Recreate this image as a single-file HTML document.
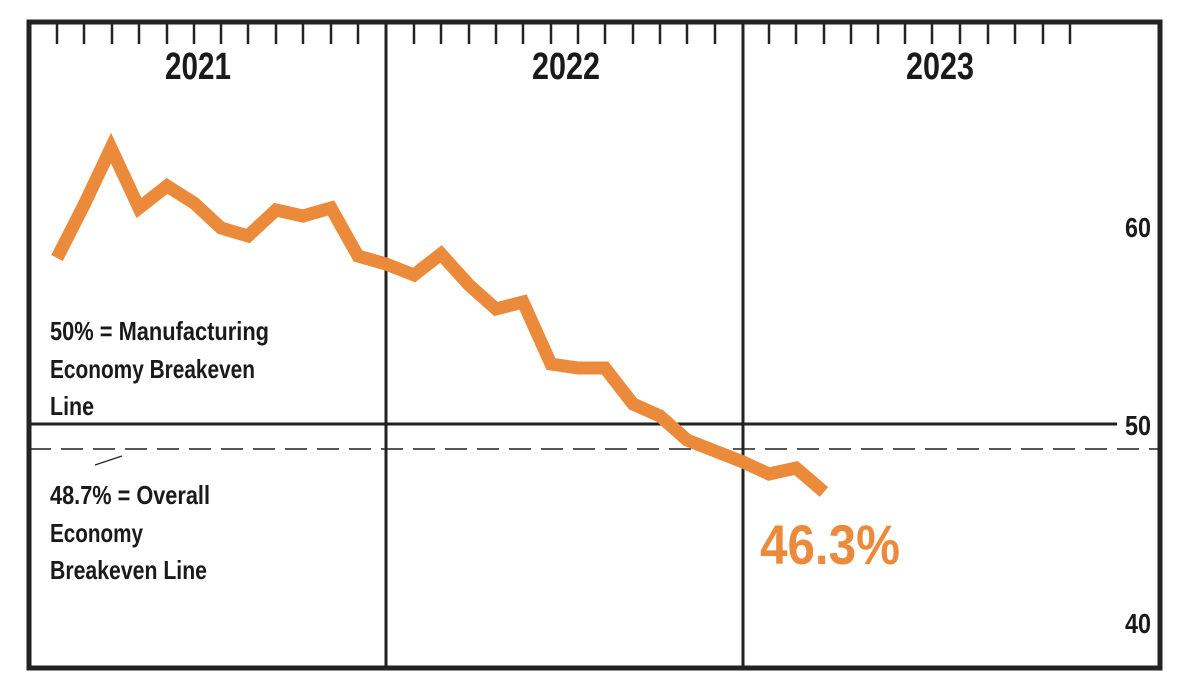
<!DOCTYPE html>
<html><head><meta charset="utf-8"><style>html,body{margin:0;padding:0;background:#fff}svg{display:block}</style></head>
<body>
<svg width="1196" height="698" viewBox="0 0 1196 698" xmlns="http://www.w3.org/2000/svg" font-family="Liberation Sans, sans-serif" font-weight="bold">
<rect x="0" y="0" width="1196" height="698" fill="#fff"/>
<g stroke="#222" stroke-width="2.5">
<path d="M57 24V44M84 24V44M112 24V44M139 24V44M167 24V44M194 24V44M221 24V44M248 24V44M276 24V44M303 24V44M331 24V44M358 24V44M414 24V44M441 24V44M469 24V44M496 24V44M523 24V44M551 24V44M578 24V44M605 24V44M633 24V44M660 24V44M687 24V44M715 24V44M769 24V44M796 24V44M824 24V44M851 24V44M878 24V44M905 24V44M932 24V44M960 24V44M988 24V44M1015 24V44M1043 24V44M1070 24V44"/>
<line x1="386" y1="22" x2="386" y2="668" stroke-width="3"/>
<line x1="743" y1="22" x2="743" y2="668" stroke-width="3"/>
<line x1="29" y1="424" x2="1117" y2="424" stroke-width="3"/>
<line x1="29" y1="449" x2="1160" y2="449" stroke-width="1.5" stroke-dasharray="22,10"/>
<line x1="95" y1="465" x2="122" y2="456" stroke-width="1.2"/>
</g>
<rect x="29" y="22" width="1131" height="646" fill="none" stroke="#222" stroke-width="5"/>
<g fill="#1a1a1a" font-size="38" text-anchor="middle">
<text x="198" y="79" textLength="66" lengthAdjust="spacingAndGlyphs">2021</text>
<text x="566" y="79" textLength="68" lengthAdjust="spacingAndGlyphs">2022</text>
<text x="940" y="79" textLength="68" lengthAdjust="spacingAndGlyphs">2023</text>
</g>
<g fill="#1a1a1a" font-size="28" text-anchor="middle">
<text x="1138" y="237" textLength="26" lengthAdjust="spacingAndGlyphs">60</text>
<text x="1138" y="435" textLength="26" lengthAdjust="spacingAndGlyphs">50</text>
<text x="1138" y="633" textLength="26" lengthAdjust="spacingAndGlyphs">40</text>
</g>
<g fill="#1a1a1a" font-size="26">
<text x="50" y="340" textLength="219" lengthAdjust="spacingAndGlyphs">50% = Manufacturing</text>
<text x="50" y="378" textLength="205" lengthAdjust="spacingAndGlyphs">Economy Breakeven</text>
<text x="50" y="415" textLength="44" lengthAdjust="spacingAndGlyphs">Line</text>
<text x="50" y="504" textLength="160" lengthAdjust="spacingAndGlyphs">48.7% = Overall</text>
<text x="50" y="542" textLength="93" lengthAdjust="spacingAndGlyphs">Economy</text>
<text x="50" y="579" textLength="157" lengthAdjust="spacingAndGlyphs">Breakeven Line</text>
</g>
<polyline fill="none" stroke="#EC8A3C" stroke-width="13" stroke-linejoin="miter" stroke-miterlimit="3"
points="57,258 84,205 111,148 139,208 167,186 194,203 221,228 248,236 276,210 303,216 331,208 358,256 386,264 414,275 441,254 469,285 496,309 523,302 551,364 578,368 605,368 633,404 660,416 687,440 715,451 743,462 769,474 796,468 824,492"/>
<text x="760" y="564" fill="#EC8A3C" font-size="56" textLength="140" lengthAdjust="spacingAndGlyphs">46.3%</text>
</svg>
</body></html>
